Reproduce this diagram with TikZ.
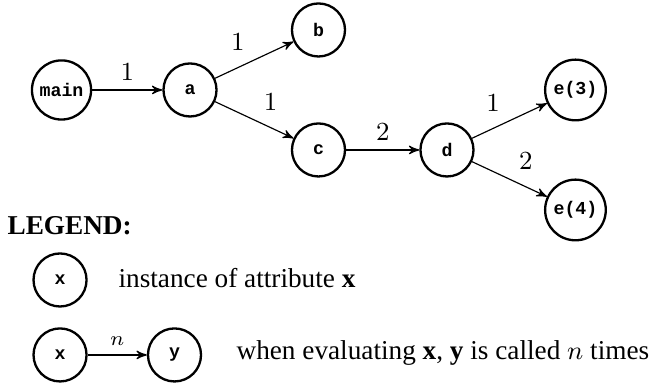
\documentclass[tikz,border=0pt]{standalone}
\usepackage{fontspec}
\setmainfont{Liberation Serif}
\setmonofont{Liberation Mono}
\usetikzlibrary{positioning,arrows}

\tikzset{
    attr/.style={circle, draw, thick, minimum size=18.3pt, inner sep=1.8pt,
        font=\fontsize{6.3}{7}\selectfont\ttfamily\bfseries},
    call/.style={->, >=stealth'},
    legendtext/.style={anchor=base west, inner sep=0pt}
}

\begin{document}
\fontsize{9.4}{11.3}\selectfont
\begin{tikzpicture}[node distance=0.7275cm and 1.558cm, on grid]
    \useasboundingbox (-0.746,1.091) rectangle (7.160,-3.553);

    \node[attr] (main) at (0,0) {main};
    \node[attr, right=of main] (a) {a};
    \node[attr, above right=of a] (b) {b};
    \node[attr, below right=of a] (c) {c};
    \node[attr, right=of c] (d) {d};
    \node[attr, above right=of d] (e3) {e(3)};
    \node[attr, below right=of d] (e4) {e(4)};

    \draw[call] (main) -- node[auto] {$1$} (a);
    \draw[call] (a) -- node[auto] {$1$} (b);
    \draw[call] (a) -- node[auto] {$1$} (c);
    \draw[call] (c) -- node[auto] {$2$} (d);
    \draw[call] (d) -- node[auto] {$1$} (e3);
    \draw[call] (d) -- node[auto] {$2$} (e4);

    % legend
    \node[legendtext] (legend) at (-0.661,-1.758) {\textbf{LEGEND:}};
    \node[attr] (lx) at (-0.018,-2.304) {x};
    \node[legendtext] (linst) at (0.685,-2.401) {instance of attribute \textbf{x}};
    \node[attr] (lx2) at (-0.018,-3.213) {x};
    \node[attr, right=1.388cm of lx2] (ly) {y};
    \draw[call] (lx2) -- node[auto, font=\scriptsize] {$n$} (ly);
    \node[legendtext] (lcall) at (2.116,-3.274) {when evaluating \textbf{x}, \textbf{y} is called $n$ times};
\end{tikzpicture}
\end{document}
